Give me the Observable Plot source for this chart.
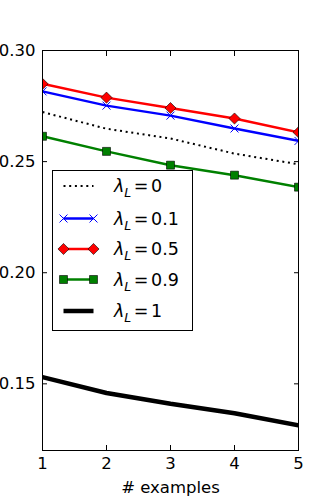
<!DOCTYPE html>
<html><head><meta charset="utf-8">
<script src="https://cdn.jsdelivr.net/npm/d3@7"></script>
<script src="https://cdn.jsdelivr.net/npm/@observablehq/plot@0.6"></script>
<style>
html,body{margin:0;padding:0;background:#fff;}
#wrap{position:relative;width:330px;height:500px;}
#legend{position:absolute;left:0;top:0;pointer-events:none;}
</style></head><body><div id="wrap"></div>
<script>
const examples = [1, 2, 3, 4, 5];
const lambda0 = [0.2723, 0.2648, 0.2604, 0.2536, 0.2488];
const lambda01 = [0.2816, 0.2752, 0.2707, 0.2649, 0.2593];
const lambda05 = [0.2850, 0.2788, 0.2741, 0.2694, 0.2632];
const lambda09 = [0.2614, 0.2546, 0.2484, 0.2439, 0.2385];
const lambda1 = [0.1530, 0.1459, 0.1410, 0.1368, 0.1313];
const yTicks = [0.15, 0.20, 0.25, 0.30];
const xTicks = [1, 2, 3, 4, 5];
const seriesLabels = ["0", "0.1", "0.5", "0.9", "1"];
const xLabel = "# examples";

const FONT = "DejaVu Sans";
const series = [
  {label: seriesLabels[0], values: lambda0, stroke: "#000000", width: 2, dash: "2,3.7", symbol: null},
  {label: seriesLabels[1], values: lambda01, stroke: "#0000ff", width: 2.5, dash: null, symbol: "times", fill: "none", mstroke: "#0000ff", r: 3.7, msw: 1},
  {label: seriesLabels[2], values: lambda05, stroke: "#ff0000", width: 2.5, dash: null, symbol: "diamond2", fill: "#ff0000", mstroke: "#000000", r: 5, msw: 0.6},
  {label: seriesLabels[3], values: lambda09, stroke: "#008000", width: 2.5, dash: null, symbol: "square", fill: "#008000", mstroke: "#000000", r: 4.5, msw: 0.6},
  {label: seriesLabels[4], values: lambda1, stroke: "#000000", width: 4.5, dash: null, symbol: null}
];

const marks = [];
for (const s of series) {
  const data = examples.map((x, i) => ({x, y: s.values[i]}));
  marks.push(Plot.line(data, {x: "x", y: "y", stroke: s.stroke, strokeWidth: s.width,
    strokeDasharray: s.dash || undefined, strokeLinecap: "butt", clip: true}));
  if (s.symbol) {
    marks.push(Plot.dot(data, {x: "x", y: "y", symbol: s.symbol, r: s.r, fill: s.fill,
      stroke: s.mstroke, strokeWidth: s.msw, clip: true}));
  }
}

const chart = Plot.plot({
  width: 330, height: 500,
  marginLeft: 42, marginRight: 32, marginTop: 50, marginBottom: 50,
  style: {fontFamily: FONT, fontSize: "16.5px", background: "#fff", color: "#000"},
  x: {domain: [1, 5]},
  y: {domain: [0.12, 0.30]},
  marks: [
    ...marks,
    Plot.axisX({ticks: xTicks, tickSize: 0, tickPadding: 7, fontSize: 16.5, tickFormat: d3.format("d"), label: null}),
    Plot.axisX({ticks: xTicks, tickSize: -5, tickFormat: () => "", label: null}),
    Plot.axisX({ticks: xTicks, anchor: "top", tickSize: -5, tickFormat: () => "", label: null}),
    Plot.axisY({ticks: yTicks, tickSize: 0, tickPadding: 7, fontSize: 16.5, tickFormat: d3.format(".2f"), label: null}),
    Plot.axisY({ticks: yTicks, tickSize: -5, tickFormat: () => "", label: null}),
    Plot.axisY({ticks: yTicks, anchor: "right", tickSize: -5, tickFormat: () => "", label: null}),
    Plot.text([xLabel], {text: d => d, frameAnchor: "bottom", dy: 37, lineAnchor: "middle",
      fontSize: 16.5, fontFamily: FONT, fill: "#000"}),
    Plot.frame({stroke: "#000", strokeWidth: 1})
  ]
});
document.getElementById("wrap").appendChild(chart);

// Legend overlay (inside the axes, upper-left area)
const lg = d3.select("#wrap").append("svg").attr("id", "legend")
  .attr("width", 330).attr("height", 500);
const box = {x: 52, y: 170, w: 140, h: 160};
lg.append("rect").attr("x", box.x + 0.5).attr("y", box.y + 0.5).attr("width", box.w).attr("height", box.h)
  .attr("fill", "#fff").attr("stroke", "#000").attr("stroke-width", 1);
const rowY = [186, 218.5, 249, 279.5, 311];
const x0 = 63.5, x1 = 93.5, tx = 114;
const symMap = {times: d3.symbolTimes, diamond2: d3.symbolDiamond2, square: d3.symbolSquare};
series.forEach((s, i) => {
  const y = rowY[i];
  lg.append("line").attr("x1", x0).attr("x2", x1).attr("y1", y).attr("y2", y)
    .attr("stroke", s.stroke).attr("stroke-width", s.width)
    .attr("stroke-dasharray", s.dash || null).attr("stroke-linecap", "butt");
  if (s.symbol) {
    const path = d3.symbol(symMap[s.symbol], Math.PI * s.r * s.r)();
    for (const px of [x0, x1]) {
      lg.append("path").attr("d", path).attr("transform", `translate(${px},${y})`)
        .attr("fill", s.fill).attr("stroke", s.mstroke).attr("stroke-width", s.msw);
    }
  }
  const t = lg.append("text").attr("x", tx).attr("y", y).attr("dy", "0.36em")
    .attr("font-family", FONT).attr("font-size", 17.5).attr("fill", "#000");
  t.append("tspan").attr("font-style", "italic").text("λ");
  t.append("tspan").attr("font-style", "italic").attr("font-size", 12.5).attr("dy", 5).text("L");
  t.append("tspan").attr("dy", -5).attr("dx", 2.5).text("=");
  t.append("tspan").attr("dx", 2.5).text(s.label);
});
</script>
</body></html>
